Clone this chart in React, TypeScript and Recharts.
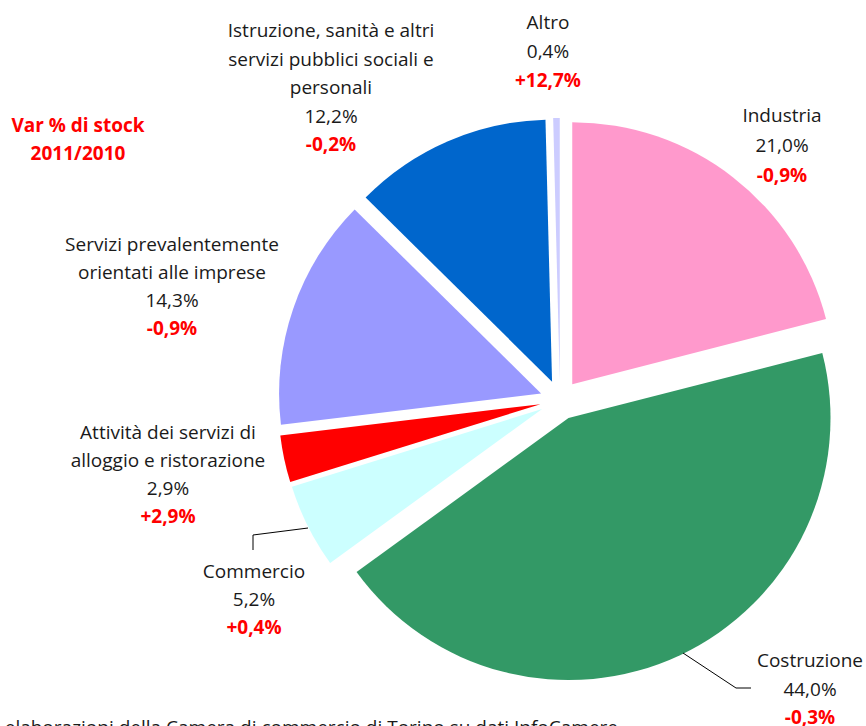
import React from 'react';
import { PieChart, Pie, Cell } from 'recharts';

const categories = [
  'Industria',
  'Costruzione',
  'Commercio',
  'Attività dei servizi di alloggio e ristorazione',
  'Servizi prevalentemente orientati alle imprese',
  'Istruzione, sanità e altri servizi pubblici sociali e personali',
  'Altro',
];
const shares = [21.0, 44.0, 5.2, 2.9, 14.3, 12.2, 0.4];
const stockChange = ['-0,9%', '-0,3%', '+0,4%', '+2,9%', '-0,9%', '-0,2%', '+12,7%'];
const labelLines = [
  ['Industria'],
  ['Costruzione'],
  ['Commercio'],
  ['Attività dei servizi di', 'alloggio e ristorazione'],
  ['Servizi prevalentemente', 'orientati alle imprese'],
  ['Istruzione, sanità e altri', 'servizi pubblici sociali e', 'personali'],
  ['Altro'],
];
const colors = ['#FF99CC', '#339966', '#CCFFFF', '#FF0000', '#9999FF', '#0066CC', '#CCCCFF'];
const legendTitle = ['Var % di stock', '2011/2010'];
const sourceText = 'Fonte: elaborazioni della Camera di commercio di Torino su dati InfoCamere';

const data = categories.map((name, i) => ({ name, value: shares[i] }));

// layout (not data)
const W = 866;
const H = 726;
const CX = 560;
const CY = 400;
const R = 262;
const EXPLODE = 20;
const labelPos = [
  { x: 782, y: 115, lh: 30 },
  { x: 810, y: 660, lh: 28.5 },
  { x: 254, y: 571, lh: 28 },
  { x: 168, y: 432, lh: 28 },
  { x: 172, y: 244, lh: 28 },
  { x: 331, y: 30, lh: 28.5 },
  { x: 548, y: 22, lh: 29 },
];
const FONT = '"Open Sans", "DejaVu Sans", sans-serif';

const total = shares.reduce((a, b) => a + b, 0);
const cum: number[] = [];
shares.reduce((acc, v, i) => {
  cum[i] = acc;
  return acc + v;
}, 0);
const midAngles = shares.map((v, i) => ((cum[i] + v / 2) / total) * 360);

const fmt = (v: number) => v.toFixed(1).replace('.', ',') + '%';

export default function App() {
  return (
    <div style={{ position: 'absolute', left: 0, top: 0, width: W, height: H, background: '#fff', overflow: 'hidden' }}>
      <PieChart width={W} height={H} margin={{ top: 0, right: 0, bottom: 0, left: 0 }}>
        {data.map((_, k) => {
          const a = (midAngles[k] * Math.PI) / 180;
          return (
            <Pie
              key={k}
              data={data}
              dataKey="value"
              nameKey="name"
              cx={CX + EXPLODE * Math.sin(a)}
              cy={CY - EXPLODE * Math.cos(a)}
              outerRadius={R}
              innerRadius={0}
              startAngle={90}
              endAngle={-270}
              stroke="none"
              isAnimationActive={false}
              labelLine={false}
            >
              {data.map((__, i) => (
                <Cell key={i} fill={i === k ? colors[i] : 'none'} stroke="none" />
              ))}
            </Pie>
          );
        })}
      </PieChart>
      <svg width={W} height={H} style={{ position: 'absolute', left: 0, top: 0, pointerEvents: 'none' }}>
        <polyline points="253,550 253,535 308,528" fill="none" stroke="#000" strokeWidth={1} />
        <polyline points="683,653 736,688 751,688" fill="none" stroke="#000" strokeWidth={1} />
        {labelLines.map((lines, i) => {
          const p = labelPos[i];
          const all = [...lines, fmt(shares[i])];
          return (
            <g key={i} fontFamily={FONT} fontSize={19} textAnchor="middle">
              {all.map((t, j) => (
                <text key={j} x={p.x} y={p.y + j * p.lh} dominantBaseline="central" fill="#1a1a1a">
                  {t}
                </text>
              ))}
              <text
                x={p.x}
                y={p.y + all.length * p.lh}
                dominantBaseline="central"
                fill="#FF0000"
                fontWeight="bold"
                fontSize={19}
              >
                {stockChange[i]}
              </text>
            </g>
          );
        })}
        <g fontFamily={FONT} fontSize={19} fontWeight="bold" fill="#FF0000" textAnchor="middle">
          <text x={78} y={125} dominantBaseline="central">{legendTitle[0]}</text>
          <text x={78} y={153} dominantBaseline="central">{legendTitle[1]}</text>
        </g>
        <text x={618} y={734} textAnchor="end" fontFamily={FONT} fontSize={19} fill="#1a1a1a">
          {sourceText}
        </text>
      </svg>
    </div>
  );
}
